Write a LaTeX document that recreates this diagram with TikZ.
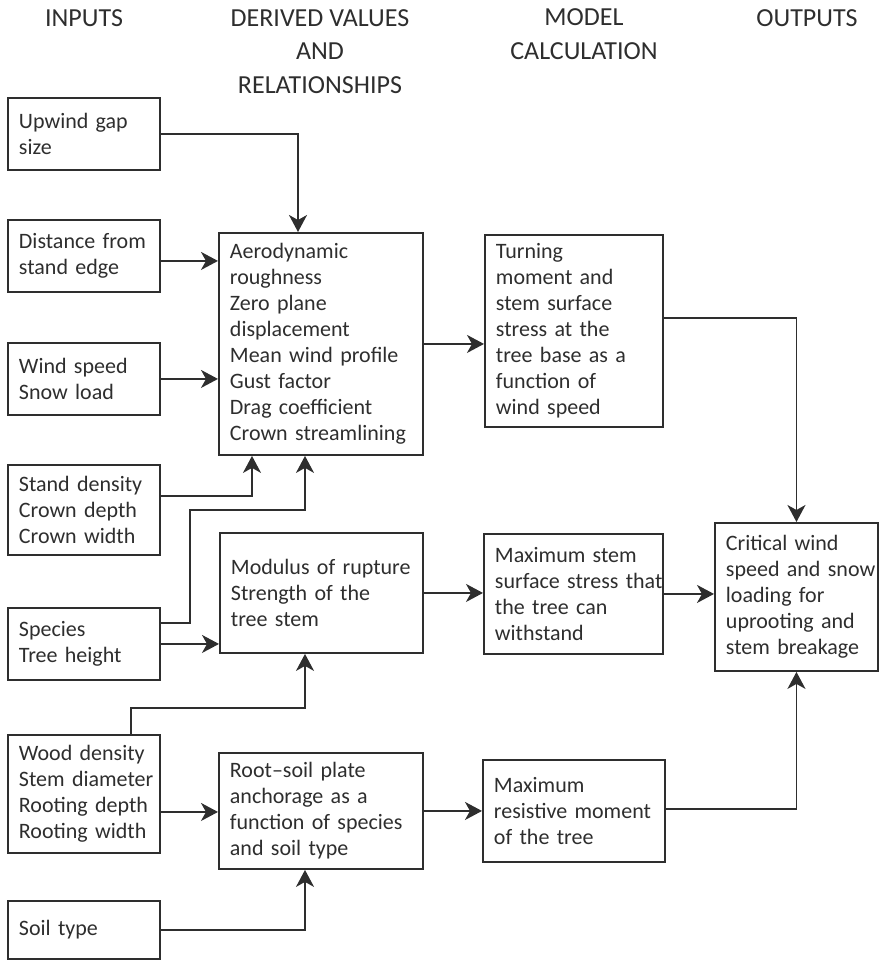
\documentclass[tikz,border=0pt]{standalone}
\usepackage{fontspec}
\setmainfont{Carlito}
\usetikzlibrary{arrows.meta,positioning,calc}
\definecolor{wsInk}{HTML}{2E2E2E}

\begin{document}
\begin{tikzpicture}[x=1pt, y=1pt,
  box/.style={draw=wsInk, line width=1.9pt, anchor=north west, align=left, inner xsep=11pt, inner ysep=0pt, text=wsInk, font=\fontsize{22}{26}\selectfont},
  hdr/.style={align=center, text=wsInk, font=\fontsize{26}{33.5}\selectfont},
  arr/.style={-{Stealth[length=17pt, width=18pt, inset=5pt]}, line width=1.9pt, draw=wsInk}]
\useasboundingbox (0,0) rectangle (878,-960);

% column heads
\node[hdr] (hIn) at (84,-18) {INPUTS};
\node[hdr] (hDer) at (320,-51.5) {DERIVED VALUES\\AND\\RELATIONSHIPS};
\node[hdr] (hMod) at (584,-34) {MODEL\\CALCULATION};
\node[hdr] (hOut) at (807,-18) {OUTPUTS};

% inputs
\node[box, text width=130pt, minimum height=72pt] (up) at (7,-97) {Upwind gap\\size};
\node[box, text width=130pt, minimum height=72pt] (dist) at (7,-219) {Distance from\\stand edge};
\node[box, text width=130pt, minimum height=72pt] (wind) at (7,-342) {Wind speed\\Snow load};
\node[box, text width=130pt, minimum height=90pt] (stand) at (7,-464) {Stand density\\Crown depth\\Crown width};
\node[box, text width=130pt, minimum height=72pt] (spec) at (7,-607) {Species\\Tree height};
\node[box, text width=130pt, minimum height=118pt] (wood) at (7,-734) {Wood density\\\mbox{Stem diameter}\\Rooting depth\\Rooting width};
\node[box, text width=130pt, minimum height=58pt] (soil) at (7,-900) {Soil type};

% derived values
\node[box, text width=182pt, minimum height=222pt] (aero) at (218,-232) {Aerodynamic\\roughness\\Zero plane\\displacement\\Mean wind profile\\Gust factor\\Drag coefficient\\\mbox{Crown streamlining}};
\node[box, text width=181pt, minimum height=120pt] (mod) at (219,-532) {Modulus of rupture\\Strength of the\\tree stem};
\node[box, text width=182pt, minimum height=116pt] (root) at (218,-752) {Root--soil plate\\anchorage as a\\function of species\\and soil type};

% model calculation
\node[box, text width=156pt, minimum height=192pt] (turn) at (484,-234) {Turning\\moment and\\stem surface\\stress at the\\tree base as a\\function of\\wind speed};
\node[box, text width=157pt, minimum height=120pt] (maxs) at (483,-533) {Maximum stem\\\mbox{surface stress that}\\the tree can\\withstand};
\node[box, text width=160pt, minimum height=102pt] (maxr) at (482,-759) {Maximum\\\mbox{resistive moment}\\of the tree};

% output
\node[box, text width=141pt, minimum height=148pt] (crit) at (714,-522) {Critical wind\\\mbox{speed and snow}\\loading for\\uprooting and\\stem breakage};

% connectors
\draw[arr] (up.east) -| ([xshift=80pt]aero.north west);
\draw[arr] ([yshift=-5pt]dist.east) -- ([yshift=-5pt]dist.east -| aero.west);
\draw[arr] (wind.east) -- (wind.east -| aero.west);
\draw[arr] ([yshift=14pt]stand.east) -| ([xshift=34pt]aero.south west);
\draw[arr] ([yshift=21pt]spec.east) -- ++(29,0) -- ++(0,113) -| ([xshift=87pt]aero.south west);
\draw[arr] (spec.east) -- (spec.east -| mod.west);
\draw[arr] ([xshift=-30pt]wood.north east) -- ++(0,26) -| ([xshift=86pt]mod.south west);
\draw[arr] ([yshift=-18pt]wood.east) -- ([yshift=-18pt]wood.east -| root.west);
\draw[arr] (soil.east) -| ([xshift=87pt]root.south west);
\draw[arr] (aero.east) -- (aero.east -| turn.west);
\draw[arr] (mod.east) -- (mod.east -| maxs.west);
\draw[arr] (root.east) -- (root.east -| maxr.west);
\draw[arr] ([yshift=13pt]turn.east) -| (crit.north);
\draw[arr] (maxs.east) -- (maxs.east -| crit.west);
\draw[arr] ([yshift=2pt]maxr.east) -| (crit.south);
\end{tikzpicture}
\end{document}
